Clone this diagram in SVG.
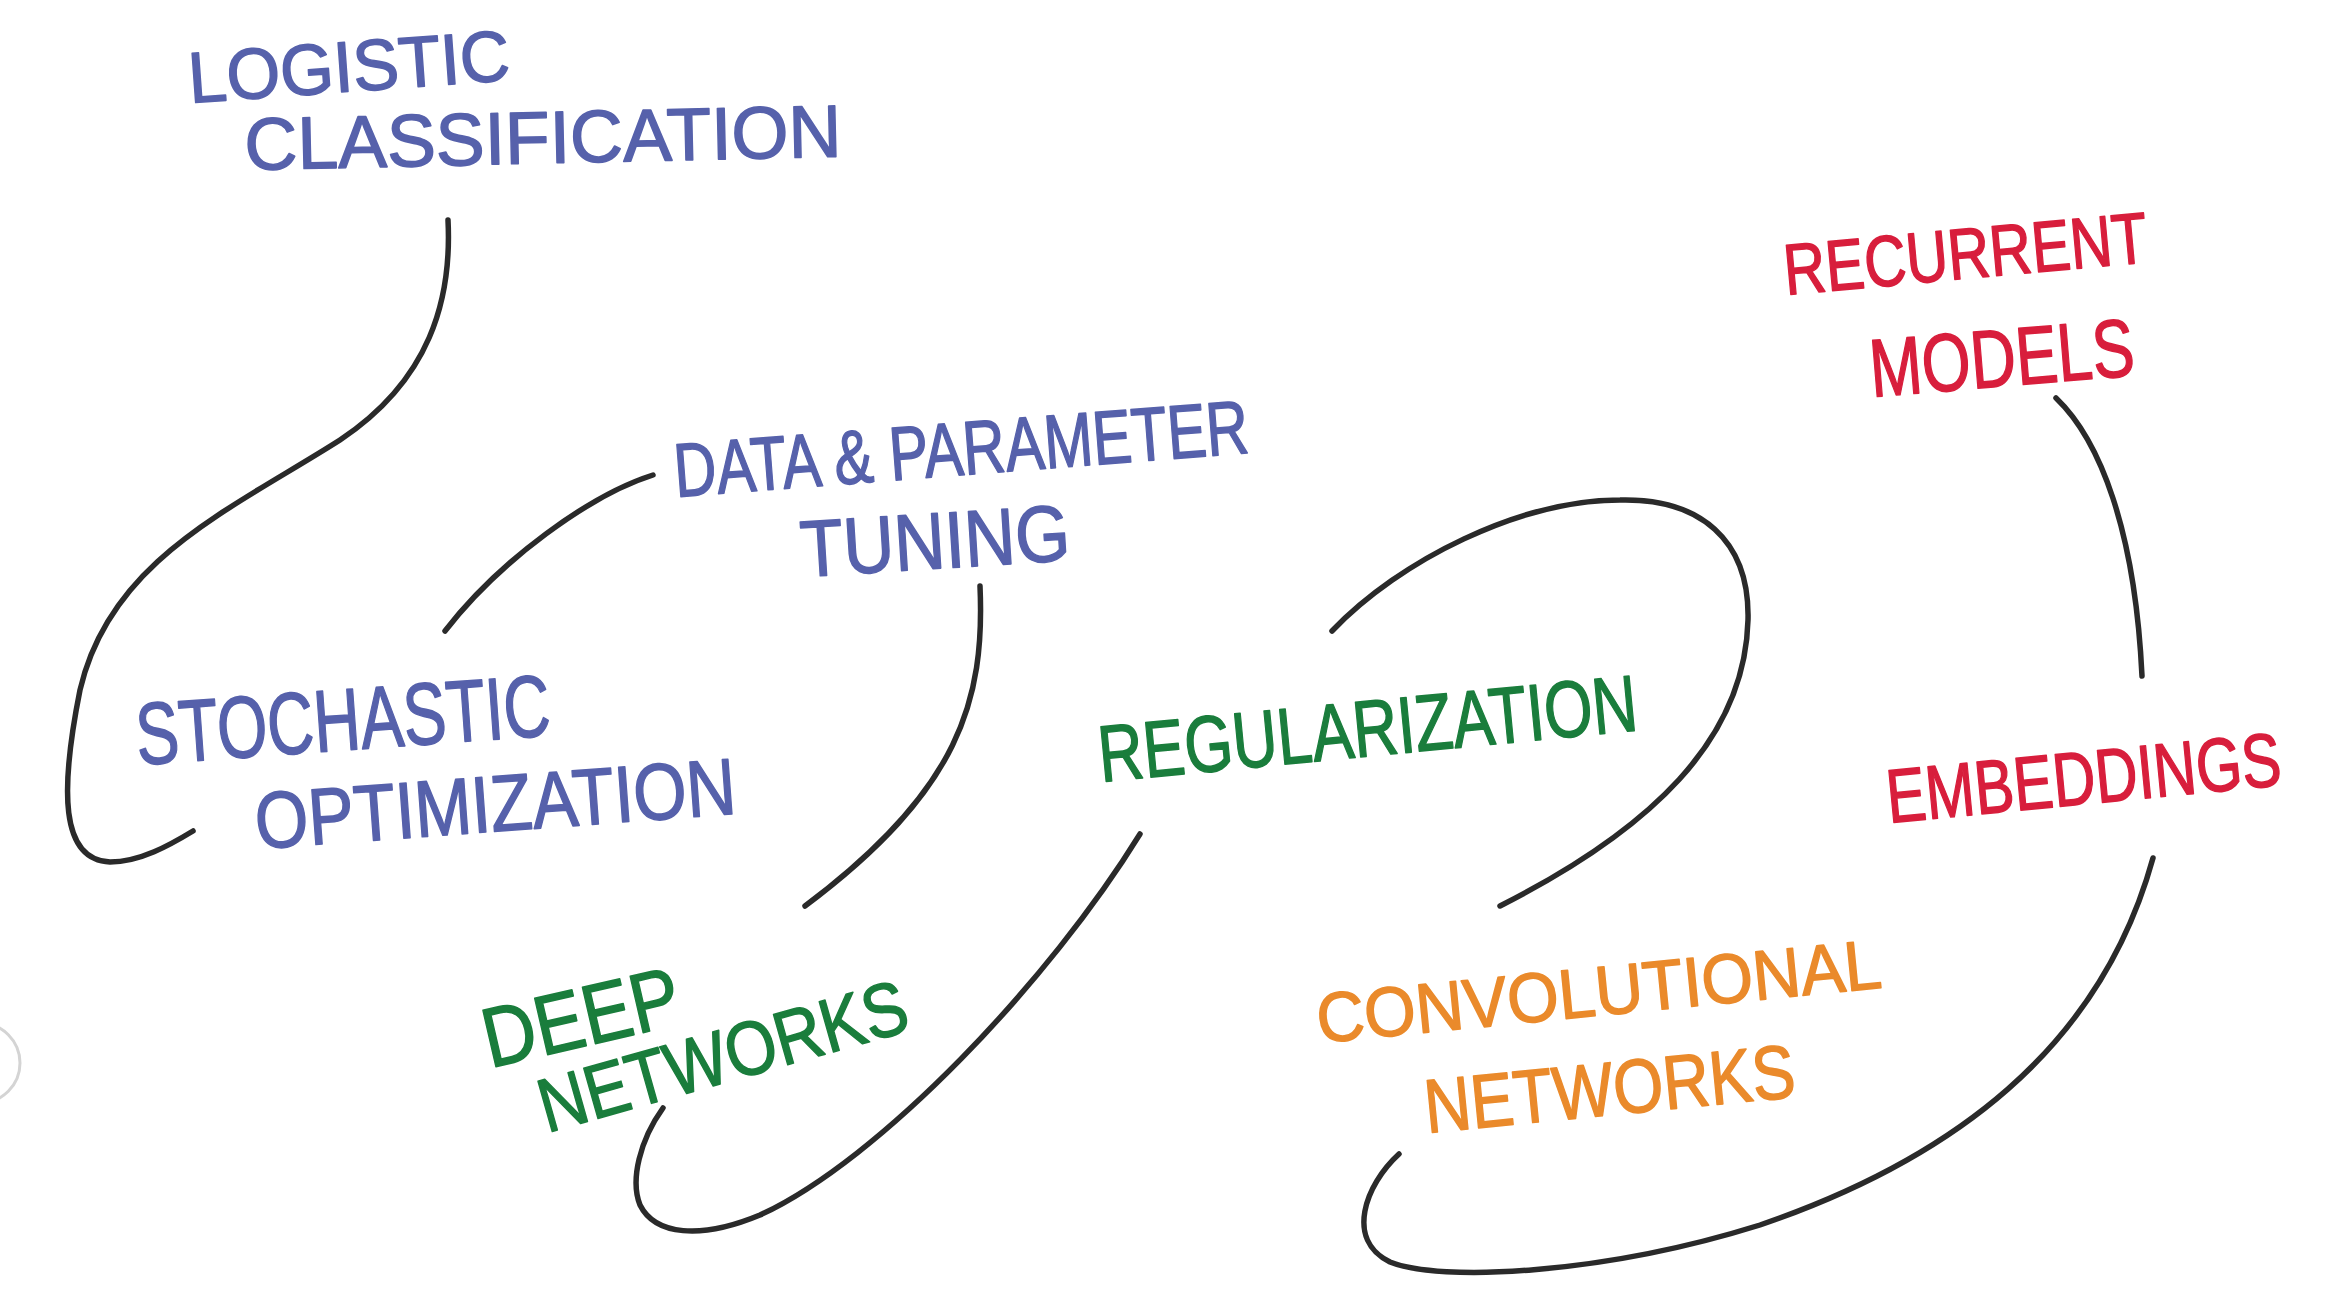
<svg xmlns="http://www.w3.org/2000/svg" width="2328" height="1294" viewBox="0 0 2328 1294">
<style>
.t{font-family:"Liberation Sans","DejaVu Sans",sans-serif;stroke-linejoin:round;}
.blue{fill:#5661ab;stroke:#5661ab;stroke-width:1.5;}
.green{fill:#1a7d3c;stroke:#1a7d3c;stroke-width:1.5;}
.red{fill:#d81e3c;stroke:#d81e3c;stroke-width:1.5;}
.orange{fill:#ea8a2b;stroke:#ea8a2b;stroke-width:1.5;}
.c{fill:none;stroke:#2a2a2a;stroke-width:5.5;stroke-linecap:round;stroke-linejoin:round;}
</style>
<rect width="2328" height="1294" fill="#ffffff"/>
<circle cx="-20" cy="1063" r="40" fill="#ffffff" stroke="#d4d4d4" stroke-width="3"/>

<g id="connectors">
<path class="c" d="M448,220 C452,300 430,380 340,440 C230,510 110,560 80,690 C60,790 60,860 110,862 C140,862 170,845 193,831"/>
<path class="c" d="M653,475 C590,495 500,560 445,631"/>
<path class="c" d="M980,586 C985,700 960,790 805,906"/>
<path class="c" d="M663,1108 C640,1140 630,1180 640,1205 C655,1235 700,1240 760,1215 C880,1160 1050,980 1140,834"/>
<path class="c" d="M1332,631 C1400,560 1520,500 1620,500 C1700,498 1750,540 1748,620 C1745,740 1650,830 1500,906"/>
<path class="c" d="M1399,1154 C1365,1185 1345,1240 1390,1262 C1440,1282 1600,1275 1760,1225 C1950,1160 2100,1050 2153,858"/>
<path class="c" d="M2056,398 C2100,440 2135,530 2142,676"/>
</g>

<g id="logistic-classification">
<text class="t blue" x="190" y="103" font-size="72" textLength="322" lengthAdjust="spacingAndGlyphs" transform="rotate(-4.1 190 103)">LOGISTIC</text>
<text class="t blue" x="245" y="170" font-size="74" textLength="597" lengthAdjust="spacingAndGlyphs" transform="rotate(-1.3 245 170)">CLASSIFICATION</text>
</g>

<g id="data-parameter-tuning">
<text class="t blue" x="676" y="497" font-size="76" textLength="576" lengthAdjust="spacingAndGlyphs" transform="rotate(-4.4 676 497)">DATA &amp; PARAMETER</text>
<text class="t blue" x="802" y="577" font-size="80" textLength="270" lengthAdjust="spacingAndGlyphs" transform="rotate(-3.6 802 577)">TUNING</text>
</g>

<g id="stochastic-optimization">
<text class="t blue" x="138" y="765" font-size="88" textLength="415" lengthAdjust="spacingAndGlyphs" transform="rotate(-4.1 138 765)">STOCHASTIC</text>
<text class="t blue" x="257" y="849" font-size="80" textLength="482" lengthAdjust="spacingAndGlyphs" transform="rotate(-4.2 257 849)">OPTIMIZATION</text>
</g>

<g id="regularization">
<text class="t green" x="1101" y="782" font-size="80" textLength="541" lengthAdjust="spacingAndGlyphs" transform="rotate(-5.5 1101 782)">REGULARIZATION</text>
</g>

<g id="deep-networks">
<text class="t green" x="490" y="1068" font-size="84" textLength="200" lengthAdjust="spacingAndGlyphs" transform="rotate(-13 490 1068)">DEEP</text>
<text class="t green" x="547" y="1133" font-size="76" textLength="380" lengthAdjust="spacingAndGlyphs" transform="rotate(-15.8 547 1133)">NETWORKS</text>
</g>

<g id="recurrent-models">
<text class="t red" x="1786" y="295" font-size="72" textLength="365" lengthAdjust="spacingAndGlyphs" transform="rotate(-5.2 1786 295)">RECURRENT</text>
<text class="t red" x="1872" y="397" font-size="82" textLength="265" lengthAdjust="spacingAndGlyphs" transform="rotate(-4.7 1872 397)">MODELS</text>
</g>

<g id="embeddings">
<text class="t red" x="1889" y="823" font-size="76" textLength="396" lengthAdjust="spacingAndGlyphs" transform="rotate(-5.5 1889 823)">EMBEDDINGS</text>
</g>

<g id="convolutional-networks">
<text class="t orange" x="1319" y="1043" font-size="70" textLength="567" lengthAdjust="spacingAndGlyphs" transform="rotate(-5.6 1319 1043)">CONVOLUTIONAL</text>
<text class="t orange" x="1427" y="1133" font-size="76" textLength="372" lengthAdjust="spacingAndGlyphs" transform="rotate(-5.6 1427 1133)">NETWORKS</text>
</g>
</svg>
